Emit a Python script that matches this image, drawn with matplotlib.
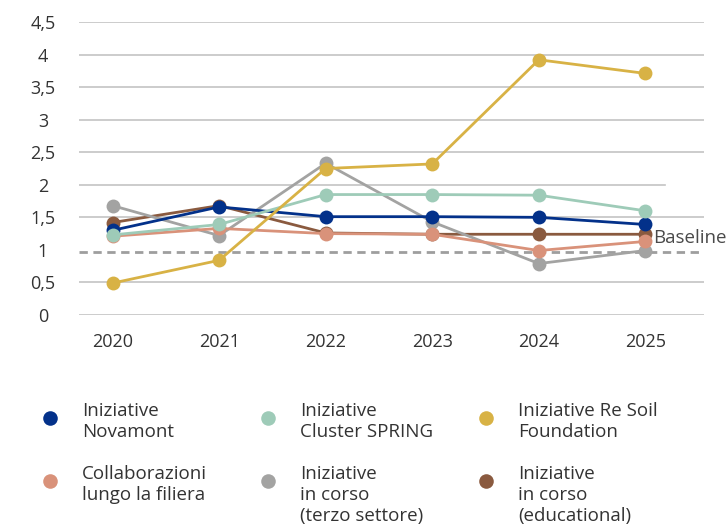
import matplotlib
matplotlib.use('Agg')
import matplotlib.pyplot as plt

plt.rcParams['font.family'] = ['Open Sans', 'DejaVu Sans']

# Data
years = ['2020', '2021', '2022', '2023', '2024', '2025']
novamont = [1.30, 1.66, 1.51, 1.51, 1.50, 1.39]
cluster_spring = [1.23, 1.39, 1.85, 1.85, 1.84, 1.60]
re_soil = [0.49, 0.84, 2.25, 2.32, 3.92, 3.71]
collaborazioni = [1.21, 1.33, 1.25, 1.24, 0.99, 1.13]
terzo_settore = [1.68, 1.22, 2.33, 1.43, 0.79, 0.99]
educational = [1.42, 1.68, 1.26, 1.24, 1.24, 1.24]
baseline = 0.97
y_ticks = [0, 0.5, 1, 1.5, 2, 2.5, 3, 3.5, 4, 4.5]
y_tick_labels = ['0', '0,5', '1', '1,5', '2', '2,5', '3', '3,5', '4', '4,5']

series = [
    ('Iniziative\nin corso\n(educational)', educational, '#8a5a3f'),
    ('Iniziative\nin corso\n(terzo settore)', terzo_settore, '#a3a3a2'),
    ('Collaborazioni\nlungo la filiera', collaborazioni, '#d9927a'),
    ('Iniziative\nNovamont', novamont, '#03318a'),
    ('Iniziative\nCluster SPRING', cluster_spring, '#9ecbb8'),
    ('Iniziative Re Soil\nFoundation', re_soil, '#d8b245'),
]

W, H = 728, 527
fig = plt.figure(figsize=(W / 100, H / 100), dpi=100)
ax = fig.add_axes([79 / W, (H - 315) / H, 625 / W, 293 / H])

x = list(range(len(years)))

# gridlines (the one at 2 stops short in the original)
for t in y_ticks:
    if t == 1:
        continue
    xmax = 0.938 if t == 2 else 1.0
    ax.axhline(t, xmin=0, xmax=xmax, color='#c4c4c4', lw=1.2, zorder=0)
ax.axhline(baseline, color='#9e9e9e', lw=2, ls=(0, (3, 2)), zorder=1)

for i, (name, vals, col) in enumerate(series):
    ax.plot(x, vals, color=col, lw=2, marker='o', markersize=10,
            markeredgewidth=0, zorder=2 + i, label=name)

ax.text(5.07, 1.19, 'Baseline', color='#4a4a4a', fontsize=13.5, va='center',
        ha='left', clip_on=False)

ax.set_xlim(-0.315, 5.55)
ax.set_ylim(0, 4.5)
ax.set_xticks(x)
ax.set_xticklabels(years)
ax.set_yticks(y_ticks)
ax.set_yticklabels(y_tick_labels)
for lab in ax.get_yticklabels():
    lab.set_horizontalalignment('center')
ax.tick_params(axis='y', length=0, pad=26, labelsize=13, labelcolor='#333333')
ax.tick_params(axis='x', length=0, pad=13, labelsize=13, labelcolor='#333333')
for s in ax.spines.values():
    s.set_visible(False)

# legend drawn by hand in pixel coordinates
lg = fig.add_axes([0, 0, 1, 1])
lg.set_xlim(0, W)
lg.set_ylim(H, 0)
lg.axis('off')
legend_layout = [
    ('Iniziative\nNovamont', '#03318a', 50, 418),
    ('Iniziative\nCluster SPRING', '#9ecbb8', 268, 418),
    ('Iniziative Re Soil\nFoundation', '#d8b245', 486, 418),
    ('Collaborazioni\nlungo la filiera', '#d9927a', 50, 481),
    ('Iniziative\nin corso\n(terzo settore)', '#a3a3a2', 268, 481),
    ('Iniziative\nin corso\n(educational)', '#8a5a3f', 486, 481),
]
for label, col, mx, my in legend_layout:
    lg.scatter([mx], [my], s=110, color=col, linewidths=0)
    lg.text(mx + 32, my - 16, label, fontsize=13.5, color='#333333',
            va='top', ha='left', linespacing=1.2)

fig.savefig('out.png', dpi=100)
